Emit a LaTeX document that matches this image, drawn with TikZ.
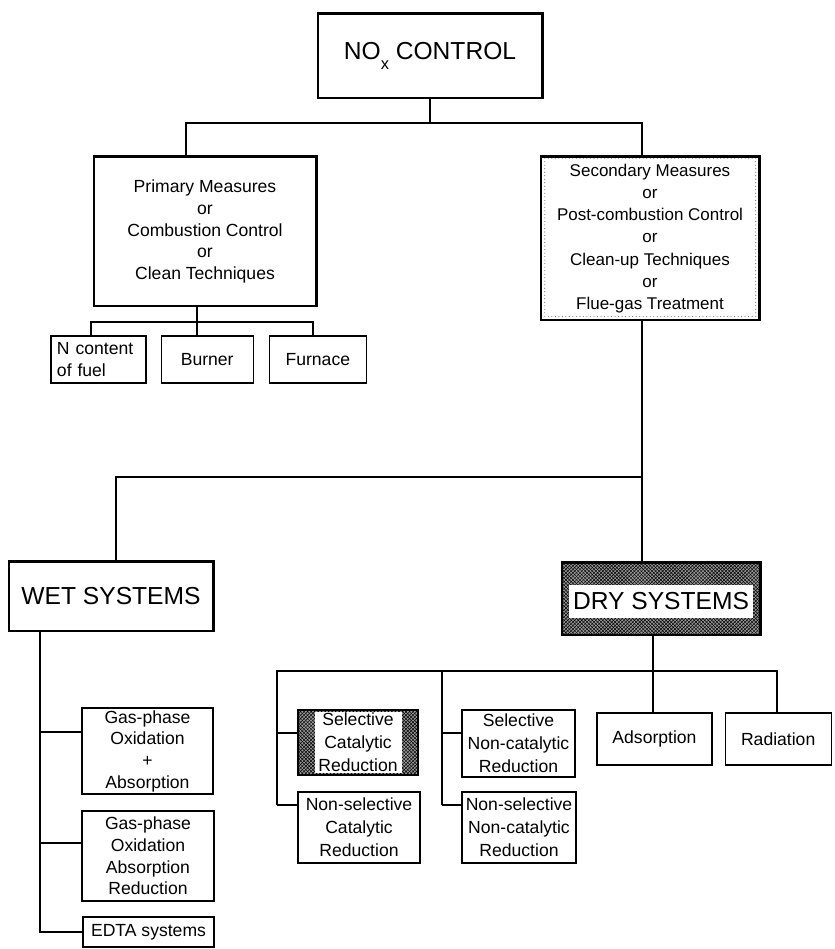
\documentclass[tikz,border=0pt]{standalone}
\usepackage{fontspec}
\setmainfont{Liberation Sans}
\usepackage{tikz}
\usetikzlibrary{patterns}

\begin{document}
\begin{tikzpicture}[x=0.03cm,y=-0.03cm,line width=1.1pt,
  box/.style={draw,line width=1.1pt,align=center,inner sep=0pt,font=\fontsize{15}{18.5}\selectfont},
  big box/.style={box,font=\fontsize{21}{24}\selectfont},
  white box/.style={fill=white,align=center,inner sep=0pt},
  hatched/.style={preaction={fill=black!40},pattern=crosshatch,pattern color=black},
  heavy/.style={line width=3pt,line cap=square}]
    \useasboundingbox (0,0) rectangle (834,949);

    % top of the tree
    \node[big box,minimum width=6.72cm,minimum height=2.52cm] (nox) at (430,56)
      {NO\raisebox{-0.4em}{\fontsize{14}{14}\selectfont x} CONTROL};
    \node[box,minimum width=6.66cm,minimum height=4.47cm] (prim) at (205,231.5)
      {Primary Measures\\or\\Combustion Control\\or\\Clean Techniques};
    \node[box,pattern=dots,pattern color=black!55,minimum width=6.54cm,minimum height=4.89cm] (sec) at (650,238.5) {};
    \node[white box,font=\fontsize{14.5}{18.9}\selectfont,minimum width=6.18cm,minimum height=4.65cm] (seclbl) at (sec)
      {Secondary Measures\\or\\Post-combustion Control\\or\\Clean-up Techniques\\or\\Flue-gas Treatment};

    % primary measures
    \node[box,align=left,text width=2.49cm,inner xsep=0.18cm,minimum height=1.41cm] (ncont) at (98.5,359.5)
      {N content\\of fuel};
    \node[box,minimum width=2.76cm,minimum height=1.41cm,node distance=3.26cm,right of=ncont] (burner) {Burner};
    \node[box,minimum width=2.91cm,minimum height=1.41cm,node distance=3.32cm,right of=burner] (furnace) {Furnace};

    % wet and dry
    \node[big box,minimum width=6.12cm,minimum height=2.07cm] (wet) at (111,596.5) {WET SYSTEMS};
    \node[box,hatched,minimum width=5.94cm,minimum height=2.16cm] (dry) at (661,599) {};
    \node[white box,font=\fontsize{21}{24}\selectfont,minimum width=5.52cm,minimum height=0.99cm] (drylbl) at (661,601.5) {DRY SYSTEMS};

    % wet systems
    \node[box,minimum width=3.93cm,minimum height=2.58cm] (wa) at (147.5,751)
      {Gas-phase\\Oxidation\\+\\Absorption};
    \node[box,minimum width=3.96cm,minimum height=2.70cm] (wb) at (148,856)
      {Gas-phase\\Oxidation\\Absorption\\Reduction};
    \node[box,minimum width=3.93cm,minimum height=0.90cm] (edta) at (148.5,932) {EDTA systems};

    % dry systems
    \node[box,hatched,minimum width=3.60cm,minimum height=1.95cm] (scr) at (358,742.5) {};
    \node[white box,font=\fontsize{15}{19.5}\selectfont,minimum width=2.61cm,minimum height=1.83cm] (scrlbl) at (scr)
      {Selective\\Catalytic\\Reduction};
    \node[box,font=\fontsize{15}{19.5}\selectfont,minimum width=3.66cm,minimum height=2.13cm] (nscr) at (359,827.5)
      {Non-selective\\Catalytic\\Reduction};
    \node[box,font=\fontsize{15}{19.5}\selectfont,minimum width=3.39cm,minimum height=2.01cm] (sncr) at (518.5,743.5)
      {Selective\\Non-catalytic\\Reduction};
    \node[box,font=\fontsize{15}{19.5}\selectfont,minimum width=3.42cm,minimum height=2.13cm] (nsncr) at (519,827.5)
      {Non-selective\\Non-catalytic\\Reduction};
    \node[box,minimum width=3.45cm,minimum height=1.56cm] (adsorp) at (654.5,739) {Adsorption};
    \node[box,minimum width=3.18cm,minimum height=1.56cm,node distance=3.71cm,right of=adsorp] (radiat) {Radiation};

    % heavy top and right edges
    \foreach \n in {nox,prim,sec,wet,dry}
      \draw[heavy] (\n.north west) -- (\n.north east) -- (\n.south east);

    % connectors
    \coordinate (b1l) at (186,123);
    \coordinate (b1r) at (642,123);
    \draw (nox.south) -- (nox.south |- b1l);
    \draw (b1l |- prim.north) -- (b1l) -- (b1r) -- (b1r |- sec.north);

    \coordinate (b2l) at (91,322);
    \coordinate (b2m) at (197,322);
    \coordinate (b2r) at (313,322);
    \draw (b2m |- prim.south) -- (b2m |- burner.north);
    \draw (b2l |- ncont.north) -- (b2l) -- (b2r) -- (b2r |- furnace.north);

    \coordinate (b3l) at (116,477);
    \coordinate (b3r) at (642,477);
    \draw (b3r |- sec.south) -- (b3r |- dry.north);
    \draw (b3l |- wet.north) -- (b3l) -- (b3r);

    \coordinate (ws) at (40,932);
    \coordinate (wa in) at ([yshift=0.57cm]wa.west);
    \coordinate (wb in) at ([yshift=0.39cm]wb.west);
    \draw (ws |- wet.south) -- (ws) -- (edta.west);
    \draw (ws |- wa in) -- (wa in);
    \draw (ws |- wb in) -- (wb in);

    \coordinate (d1l) at (277,671);
    \coordinate (d1m) at (442,671);
    \coordinate (d1c) at (653,671);
    \coordinate (d1r) at (777,671);
    \coordinate (scr in) at ([yshift=0.285cm]scr.west);
    \coordinate (nscr in) at ([yshift=0.675cm]nscr.west);
    \coordinate (sncr in) at ([yshift=0.315cm]sncr.west);
    \coordinate (nsncr in) at ([yshift=0.675cm]nsncr.west);
    \draw (d1c |- dry.south) -- (d1c |- adsorp.north);
    \draw (d1l |- nscr in) -- (d1l) -- (d1r) -- (d1r |- radiat.north);
    \draw (d1l |- scr in) -- (scr in);
    \draw (d1l |- nscr in) -- (nscr in);
    \draw (d1m |- nsncr in) -- (d1m);
    \draw (d1m |- sncr in) -- (sncr in);
    \draw (d1m |- nsncr in) -- (nsncr in);
  \end{tikzpicture}
\end{document}
